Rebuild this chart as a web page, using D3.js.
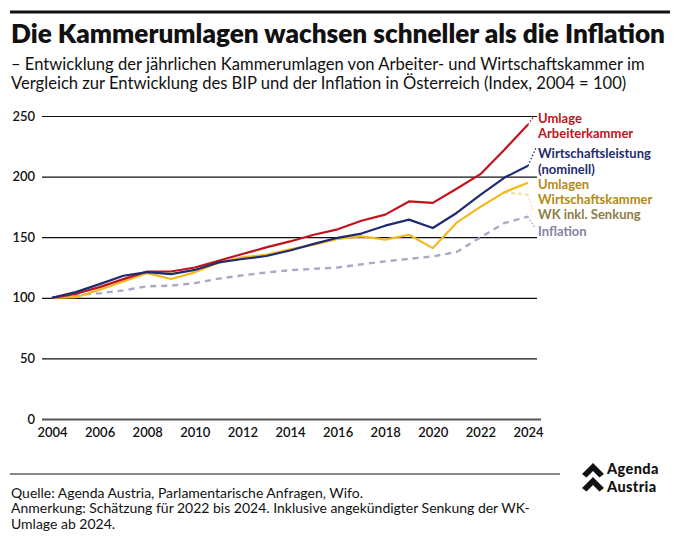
<!DOCTYPE html>
<html>
<head>
<meta charset="utf-8">
<script src="https://cdn.jsdelivr.net/npm/d3@7"></script>
<style>
  html, body { margin: 0; padding: 0; background: #fff; }
  svg { display: block; font-family: Lato, "Open Sans", sans-serif; }
</style>
</head>
<body>
<svg id="chart" width="680" height="543"></svg>
<script>
const years = [2004,2005,2006,2007,2008,2009,2010,2011,2012,2013,2014,2015,2016,2017,2018,2019,2020,2021,2022,2023,2024];
const umlageAK = [100,103.3,108.8,115.4,121.7,121.7,125,130.6,136.1,141.6,146.5,152,156.5,163.6,168.6,179.5,178.3,190,202,222,243];
const bip = [100,104.7,111.3,118.2,121.2,119.6,123,129.2,132,134.5,139,144.5,149.5,153,159.5,164.5,157.6,170,185,199,209];
const umlageWK = [100,100.5,106.6,113.5,120.4,115.5,121,129,133.3,135.5,140,143.8,148.5,150.7,148,152,141,162,175,187,195];
const senkungYears = [2023,2024];
const wkSenkung = [187,185];
const inflation = [100,102.3,103.8,106.1,109.5,110,112.1,115.8,118.5,120.9,122.8,123.9,125,127.6,130.1,132.1,134.1,137.8,149.8,161.6,167];
const yTicks = [0,50,100,150,200,250];
const xTicks = [2004,2006,2008,2010,2012,2014,2016,2018,2020,2022,2024];

const title = "Die Kammerumlagen wachsen schneller als die Inflation";
const subtitle = ["– Entwicklung der jährlichen Kammerumlagen von Arbeiter- und Wirtschaftskammer im",
                  "Vergleich zur Entwicklung des BIP und der Inflation in Österreich (Index, 2004 = 100)"];
const footer = ["Quelle: Agenda Austria, Parlamentarische Anfragen, Wifo.",
                "Anmerkung: Schätzung für 2022 bis 2024. Inklusive angekündigter Senkung der WK-",
                "Umlage ab 2024."];

const C = { red: "#c0141c", blue: "#1f2b6e", yellow: "#f2b81e", pale: "#f3e2a6", infl: "#a9a8c9",
            redT: "#b8161c", blueT: "#1f2b6e", yellowT: "#b5890f", senkT: "#8d7c47", inflT: "#8383a3" };

const svg = d3.select("#chart");
const x = d3.scaleLinear().domain([2004, 2024]).range([52, 528]);
const y = d3.scaleLinear().domain([0, 250]).range([419, 116]);

function fitText(sel, target, size) {
  sel.attr("font-size", size);
  const w = sel.node().getComputedTextLength();
  const ns = (size * target / w).toFixed(2);
  sel.attr("font-size", ns);
  return ns;
}

// top rule
svg.append("line").attr("x1", 10).attr("x2", 670).attr("y1", 12).attr("y2", 12)
  .attr("stroke", "#111").attr("stroke-width", 3);

const t = svg.append("text").attr("x", 11).attr("y", 43).attr("font-weight", 800)
  .attr("fill", "#111").text(title);
fitText(t, 654, 24);

const s1 = svg.append("text").attr("x", 11).attr("y", 70).attr("fill", "#111").text(subtitle[0]);
const fs = fitText(s1, 634, 15);
svg.append("text").attr("x", 11).attr("y", 89).attr("fill", "#111").attr("font-size", fs).text(subtitle[1]);

// y axis with gridlines
const gy = svg.append("g").attr("transform", "translate(42,0)")
  .call(d3.axisLeft(y).tickValues(yTicks).tickSize(-495).tickPadding(7));
gy.select(".domain").remove();
gy.selectAll(".tick line").attr("stroke", "#111").attr("stroke-width", 1.2);
gy.selectAll(".tick text").attr("font-size", 13).attr("font-weight", 600).attr("fill", "#111")
  .attr("font-family", "Lato, sans-serif");
gy.selectAll(".tick").filter(d => d === 0).select("line")
  .attr("stroke", "#555").attr("stroke-width", 2.2).attr("x2", 499);

// x axis
const gx = svg.append("g").attr("transform", "translate(0,419)")
  .call(d3.axisBottom(x).tickValues(xTicks).tickFormat(d3.format("d")).tickSize(0).tickPadding(9));
gx.select(".domain").remove();
gx.selectAll(".tick text").attr("font-size", 13).attr("font-weight", 600).attr("fill", "#111")
  .attr("font-family", "Lato, sans-serif");

const line = d3.line().x(d => x(d[0])).y(d => y(d[1]));
function series(vals, yrs) { return yrs.map((yr, i) => [yr, vals[i]]); }

svg.append("path").datum(series(inflation, years)).attr("d", line)
  .attr("fill", "none").attr("stroke", C.infl).attr("stroke-width", 2.4).attr("stroke-dasharray", "6,5");
svg.append("path").datum(series(wkSenkung, senkungYears)).attr("d", line)
  .attr("fill", "none").attr("stroke", C.pale).attr("stroke-width", 2.4).attr("stroke-dasharray", "4,3");
svg.append("path").datum(series(umlageWK, years)).attr("d", line)
  .attr("fill", "none").attr("stroke", C.yellow).attr("stroke-width", 2.2).attr("stroke-linejoin", "round");
svg.append("path").datum(series(umlageAK, years)).attr("d", line)
  .attr("fill", "none").attr("stroke", C.red).attr("stroke-width", 2.2).attr("stroke-linejoin", "round");
svg.append("path").datum(series(bip, years)).attr("d", line)
  .attr("fill", "none").attr("stroke", C.blue).attr("stroke-width", 2.2).attr("stroke-linejoin", "round");

// leader lines
const last = years.length - 1;
function leader(v, x2, y2, col) {
  svg.append("line").attr("x1", x(2024)).attr("y1", y(v)).attr("x2", x2).attr("y2", y2)
    .attr("stroke", col).attr("stroke-width", 1.3).attr("stroke-dasharray", "1.5,2");
}
leader(umlageAK[last], 534, 116, C.red);
leader(bip[last], 536, 148, C.blue);
leader(wkSenkung[1], 533, 210, "#e8d9a8");
leader(inflation[last], 535, 228, C.infl);

// labels
const labels = [
  ["Umlage", 118, C.redT], ["Arbeiterkammer", 133.5, C.redT],
  ["Wirtschaftsleistung", 153.5, C.blueT], ["(nominell)", 169, C.blueT],
  ["Umlagen", 184, C.yellowT], ["Wirtschaftskammer", 199, C.yellowT],
  ["WK inkl. Senkung", 214, C.senkT], ["Inflation", 231, C.inflT]
];
svg.selectAll("text.lab").data(labels).enter().append("text").attr("class", "lab")
  .attr("x", 538).attr("y", d => d[1]).attr("dy", "0.35em")
  .attr("font-size", 13).attr("font-weight", 700).attr("fill", d => d[2]).text(d => d[0]);

// footer
svg.append("line").attr("x1", 10).attr("x2", 560).attr("y1", 474).attr("y2", 474)
  .attr("stroke", "#111").attr("stroke-width", 1);
const f2 = svg.append("text").attr("x", 11).attr("y", 513).attr("fill", "#111").text(footer[1]);
const ffs = fitText(f2, 519, 13);
svg.append("text").attr("x", 11).attr("y", 497.5).attr("fill", "#111").attr("font-size", ffs).text(footer[0]);
svg.append("text").attr("x", 11).attr("y", 528.5).attr("fill", "#111").attr("font-size", ffs).text(footer[2]);

// logo
const logo = svg.append("g").attr("transform", "translate(582,461)");
logo.append("path").attr("d", "M0,13 L11,2 L22,13 L17.5,16.5 L11,10 L4.5,16.5 Z").attr("fill", "#111");
logo.append("path").attr("d", "M0,27 L11,16 L22,27 L17.5,30.5 L11,24 L4.5,30.5 Z").attr("fill", "#111");
logo.append("text").attr("x", 25).attr("y", 13).attr("font-size", 14.5).attr("letter-spacing", 0.4)
  .attr("font-weight", 900).attr("fill", "#111").text("Agenda");
logo.append("text").attr("x", 25).attr("y", 30.5).attr("font-size", 14.5).attr("letter-spacing", 0.4)
  .attr("font-weight", 900).attr("fill", "#111").text("Austria");
</script>
</body>
</html>
